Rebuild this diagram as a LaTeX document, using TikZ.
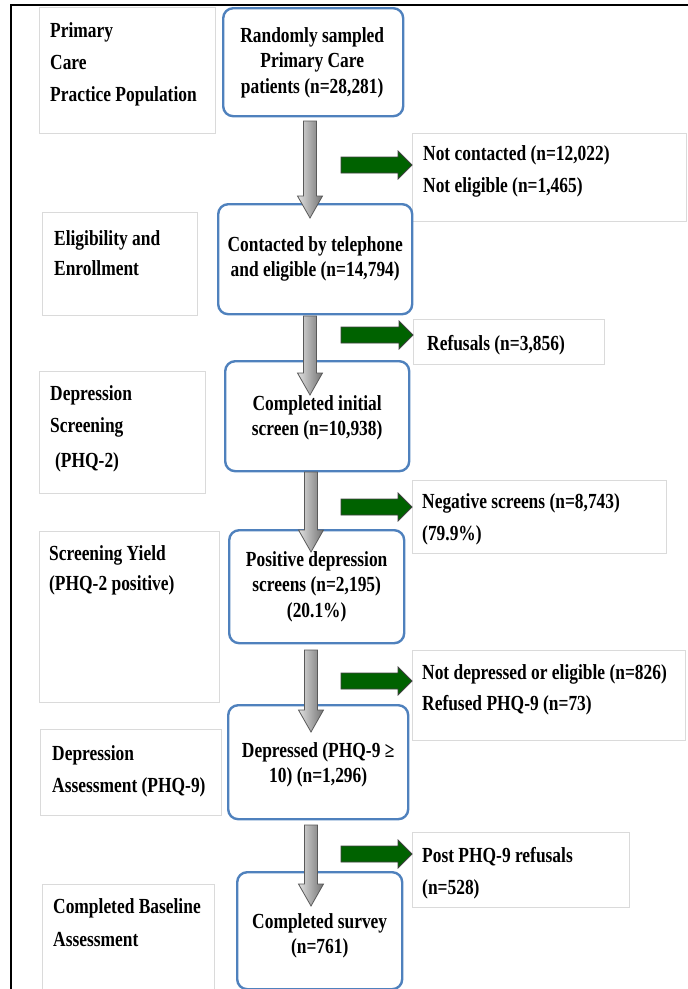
\documentclass[tikz,border=0pt]{standalone}
\usepackage{fontspec}
\setmainfont{Liberation Serif}[FakeStretch=0.81]
\usetikzlibrary{calc}
\definecolor{boxblue}{RGB}{79,129,189}
\definecolor{arrgreen}{RGB}{0,98,0}
\definecolor{sidegray}{RGB}{218,218,218}

\newcommand\Llines[1]{\vtop{\halign{##\hfil\cr#1\crcr}}}
\newcommand\Clines[1]{\vtop{\halign{\hfil##\hfil\cr#1\crcr}}}

\newcommand\grayarrow[2]{%
  \path[grayarr] let \p1=(#1), \p2=(#2) in
  (\x1-6.5pt,\y1) -- (\x1+6.5pt,\y1) -- (\x1+6.5pt,\y2+22pt) -- (\x1+12.5pt,\y2+22pt)
  -- (\x1,\y2) -- (\x1-12.5pt,\y2+22pt) -- (\x1-6.5pt,\y2+22pt) -- cycle;}
\newcommand\greenarrow[2]{%
  \path[greenarr] let \p1=(#1), \p2=(#2) in
  (\x1,\y1+8pt) -- (\x2-14pt,\y1+8pt) -- (\x2-14pt,\y1+14pt) -- (\x2,\y1)
  -- (\x2-14pt,\y1-14pt) -- (\x2-14pt,\y1-8pt) -- (\x1,\y1-8pt) -- cycle;}

\tikzset{
  mainbox/.style={draw=boxblue, line width=2.4pt, rounded corners=10pt, fill=white,
    inner sep=0pt, anchor=north west},
  sidebox/.style={draw=sidegray, line width=1pt, fill=white, inner sep=0pt, anchor=north west},
  sidetext/.style={font=\fontsize{21.5}{32}\selectfont\bfseries, inner sep=0pt, anchor=base west},
  maintext/.style={font=\fontsize{21.5}{25.5}\selectfont\bfseries, inner sep=0pt, anchor=base},
  grayarr/.style={draw=black!65, line width=0.8pt, left color=black!12, middle color=white, right color=black!55},
  greenarr/.style={draw=black!75, line width=0.8pt, fill=arrgreen},
}

\begin{document}
\begin{tikzpicture}[x=1pt,y=-1pt]
\useasboundingbox (0,0) rectangle (688,989);

% outer frame
\draw[line width=2pt] (11,1000) -- (11,5) -- (700,5);

% left stage boxes
\node[sidebox, minimum width=176pt, minimum height=126pt] (l1) at (39,7) {};
\node[sidebox, minimum width=155pt, minimum height=103pt] (l2) at (42,212) {};
\node[sidebox, minimum width=166pt, minimum height=122pt] (l3) at (39,371) {};
\node[sidebox, minimum width=180pt, minimum height=171pt] (l4) at (39,531) {};
\node[sidebox, minimum width=181pt, minimum height=86pt] (l5) at (40,729) {};
\node[sidebox, minimum width=172pt, minimum height=120pt] (l6) at (42,884) {};

% right exclusion boxes
\node[sidebox, minimum width=274pt, minimum height=88pt] (r1) at (412,133) {};
\node[sidebox, minimum width=191pt, minimum height=45pt] (r2) at (413,319) {};
\node[sidebox, minimum width=254pt, minimum height=73pt] (r3) at (412,480) {};
\node[sidebox, minimum width=273pt, minimum height=90pt] (r4) at (412,650) {};
\node[sidebox, minimum width=217pt, minimum height=75pt] (r5) at (412,832) {};

% main flow boxes
\node[mainbox, minimum width=180pt, minimum height=108pt] (m1) at (222,7) {};
\node[mainbox, minimum width=194pt, minimum height=110pt] (m2) at (217,203) {};
\node[mainbox, minimum width=184pt, minimum height=110pt] (m3) at (224,360) {};
\node[mainbox, minimum width=175pt, minimum height=113pt] (m4) at (228,529) {};
\node[mainbox, minimum width=180pt, minimum height=114pt] (m5) at (227,704) {};
\node[mainbox, minimum width=165pt, minimum height=117pt] (m6) at (236,871) {};

% left texts
\node[sidetext] (l1t) at (50,37) {\Llines{Primary\cr Care\cr Practice Population}};
\node[sidetext, font=\fontsize{21.5}{30}\selectfont\bfseries] (l2t) at (54,245) {\Llines{Eligibility and\cr Enrollment}};
\node[sidetext] (l3t) at (50,400) {\Llines{Depression\cr Screening\cr\noalign{\vskip3pt}\hspace{5pt}(PHQ-2)}};
\node[sidetext, font=\fontsize{21.5}{30}\selectfont\bfseries] (l4t) at (49,560) {\Llines{Screening Yield\cr (PHQ-2 positive)}};
\node[sidetext] (l5t) at (52,760) {\Llines{Depression\cr Assessment (PHQ-9)}};
\node[sidetext, font=\fontsize{21.5}{33}\selectfont\bfseries] (l6t) at (53,913) {\Llines{Completed Baseline\cr Assessment}};

% right texts
\node[sidetext] (r1t) at (423,160) {\Llines{Not contacted (n=12,022)\cr Not eligible (n=1,465)}};
\node[sidetext] (r2t) at (427,350) {Refusals (n=3,856)};
\node[sidetext] (r3t) at (422,508) {\Llines{Negative screens (n=8,743)\cr (79.9\%)}};
\node[sidetext, font=\fontsize{21.5}{31}\selectfont\bfseries] (r4t) at (422,679) {\Llines{Not depressed or eligible (n=826)\cr Refused PHQ-9 (n=73)}};
\node[sidetext] (r5t) at (422,862) {\Llines{Post PHQ-9 refusals\cr (n=528)}};

% main texts
\node[maintext] (m1t) at ($(m1.north)+(-1,35)$) {\Clines{Randomly sampled\cr Primary Care\cr patients (n=28,281)}};
\node[maintext] (m2t) at ($(m2.north)+(0,48)$) {\Clines{Contacted by telephone\cr and eligible (n=14,794)}};
\node[maintext] (m3t) at ($(m3.north)+(0,50)$) {\Clines{Completed initial\cr screen (n=10,938)}};
\node[maintext] (m4t) at ($(m4.north)+(0,37)$) {\Clines{Positive depression\cr screens (n=2,195)\cr (20.1\%)}};
\node[maintext] (m5t) at ($(m5.north)+(0,53)$) {\Clines{Depressed (PHQ-9 ≥\cr 10) (n=1,296)}};
\node[maintext] (m6t) at ($(m6.north)+(0,57)$) {\Clines{Completed survey\cr (n=761)}};

% arrow end coordinates
\coordinate (a1s) at (310,121); \coordinate (a1e) at (310,218);
\coordinate (a2s) at (310,316); \coordinate (a2e) at (310,395);
\coordinate (a3s) at (311,472); \coordinate (a3e) at (311,552);
\coordinate (a4s) at (311,650); \coordinate (a4e) at (311,732);
\coordinate (a5s) at (311,825); \coordinate (a5e) at (311,906);

\coordinate (g1s) at (341,165); \coordinate (g1e) at (r1.west |- g1s);
\coordinate (g2s) at (341,335); \coordinate (g2e) at (r2.west |- g2s);
\coordinate (g3s) at (341,507); \coordinate (g3e) at (r3.west |- g3s);
\coordinate (g4s) at (341,681); \coordinate (g4e) at (r4.west |- g4s);
\coordinate (g5s) at (341,854); \coordinate (g5e) at (r5.west |- g5s);

% flow arrows
\grayarrow{a1s}{a1e}
\grayarrow{a2s}{a2e}
\grayarrow{a3s}{a3e}
\grayarrow{a4s}{a4e}
\grayarrow{a5s}{a5e}

% exclusion arrows
\greenarrow{g1s}{g1e}
\greenarrow{g2s}{g2e}
\greenarrow{g3s}{g3e}
\greenarrow{g4s}{g4e}
\greenarrow{g5s}{g5e}
\end{tikzpicture}
\end{document}
